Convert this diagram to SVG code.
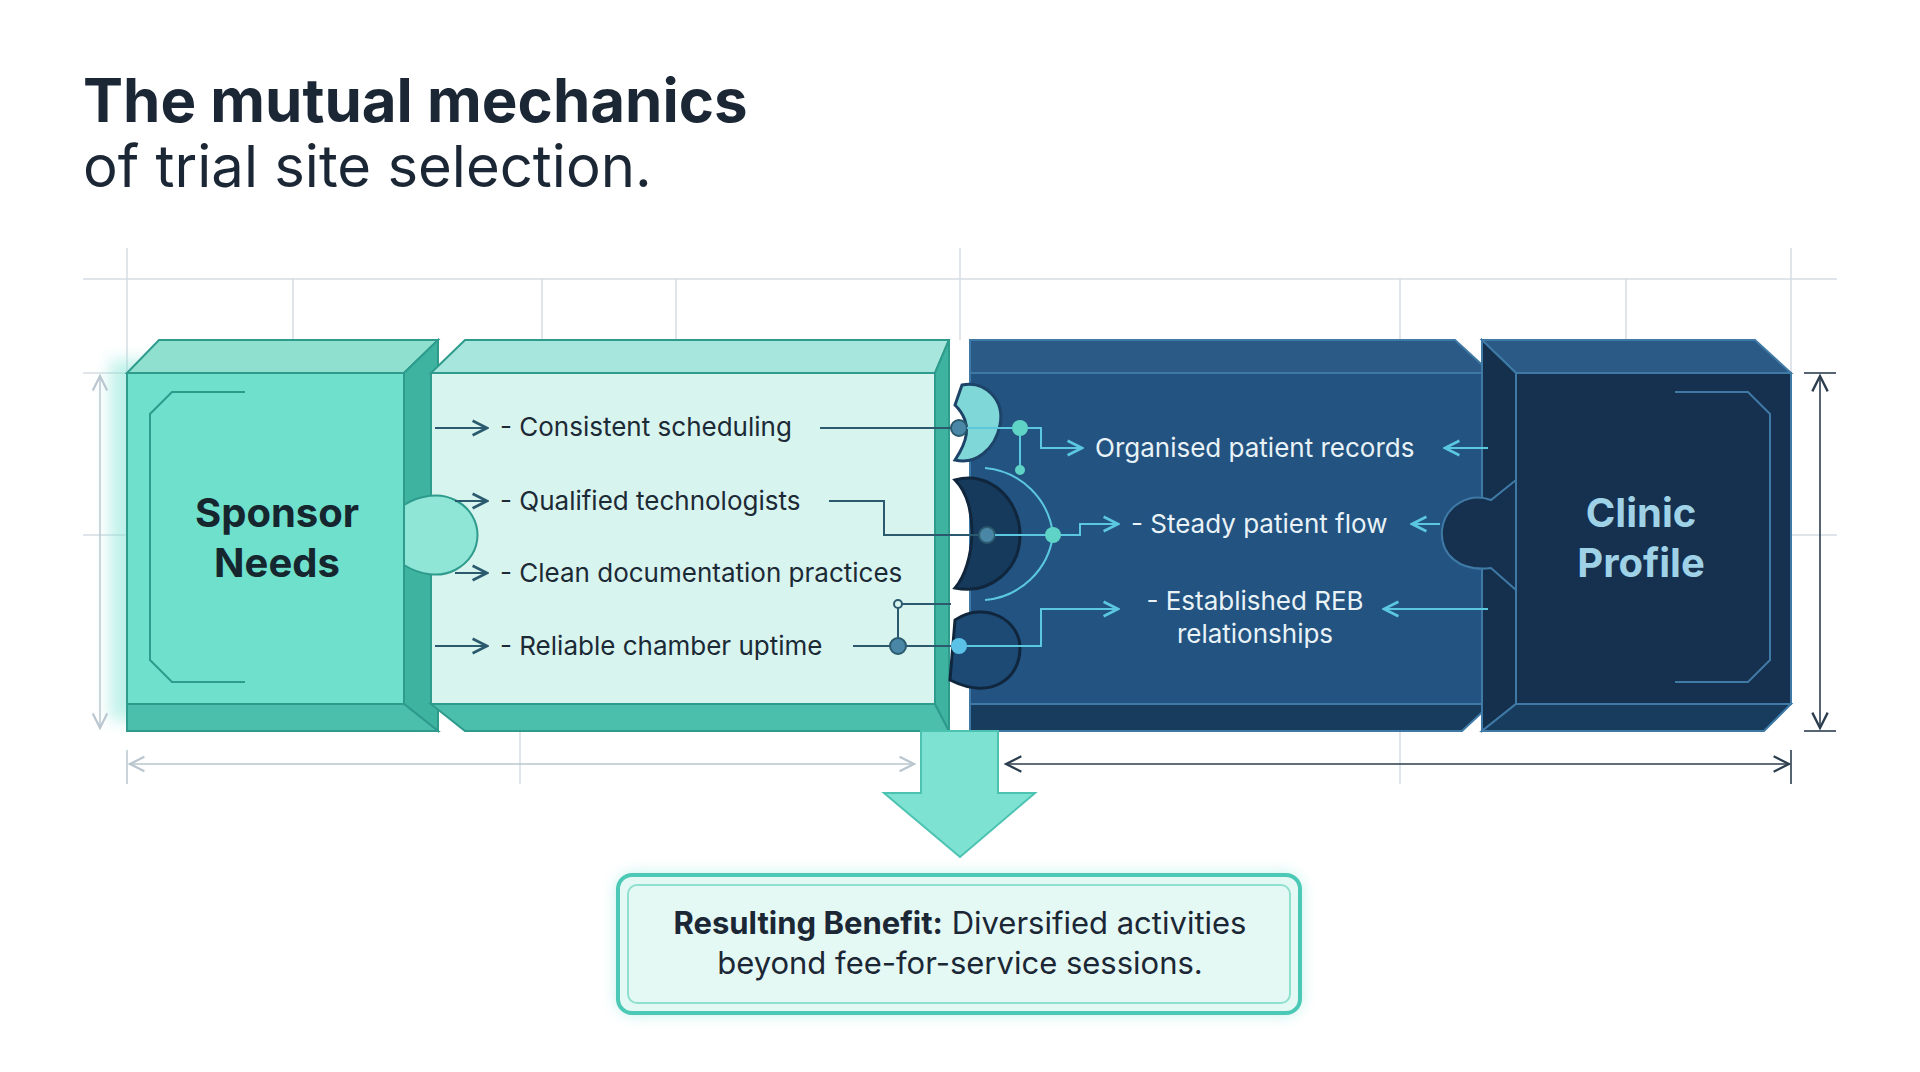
<svg xmlns="http://www.w3.org/2000/svg" width="1920" height="1072" viewBox="0 0 1920 1072">
<defs>
<style>
.t{font-family:Inter,"Liberation Sans",sans-serif}
.li{font-family:Inter,"Liberation Sans",sans-serif;font-size:26px;fill:#1c2a36}
.ri{font-family:Inter,"Liberation Sans",sans-serif;font-size:26px;fill:#e8f2f7}
.grid{stroke:#d5dde3;stroke-width:1.5;fill:none}
.cl{stroke:#2b5a6e;stroke-width:2;fill:none}
.cr{stroke:#5cc8e0;stroke-width:2;fill:none}
.dim{stroke:#2c3e4e;stroke-width:1.6;fill:none}
</style>
<marker id="ah" viewBox="0 0 10 10" refX="9" refY="5" markerWidth="9" markerHeight="9" orient="auto-start-reverse"><path d="M1,1 L9,5 L1,9" fill="none" stroke="context-stroke" stroke-width="1.5"/></marker>
<marker id="dh" viewBox="0 0 10 10" refX="9" refY="5" markerWidth="12" markerHeight="12" orient="auto-start-reverse"><path d="M1,1 L9,5 L1,9" fill="none" stroke="#2c3e4e" stroke-width="1.2"/></marker>
<marker id="lh" viewBox="0 0 10 10" refX="9" refY="5" markerWidth="12" markerHeight="12" orient="auto-start-reverse"><path d="M1,1 L9,5 L1,9" fill="none" stroke="#b9c6cf" stroke-width="1.2"/></marker>
<filter id="glow" x="-20%" y="-40%" width="140%" height="180%"><feGaussianBlur stdDeviation="8"/></filter>
</defs>
<rect width="1920" height="1072" fill="#ffffff"/>
<g id="title" class="t" fill="#1b2735">
<text x="83" y="122" font-size="60" font-weight="700">The mutual mechanics</text>
<text x="83" y="187" font-size="58">of trial site selection.</text>
</g>
<g id="grid">
<line class="grid" x1="83" y1="279" x2="1837" y2="279"/>
<line class="grid" x1="127" y1="248" x2="127" y2="373"/>
<line class="grid" x1="293" y1="278" x2="293" y2="340"/>
<line class="grid" x1="542" y1="278" x2="542" y2="340"/>
<line class="grid" x1="676" y1="278" x2="676" y2="340"/>
<line class="grid" x1="960" y1="248" x2="960" y2="340"/>
<line class="grid" x1="1400" y1="278" x2="1400" y2="340"/>
<line class="grid" x1="1626" y1="278" x2="1626" y2="340"/>
<line class="grid" x1="1791" y1="248" x2="1791" y2="373"/>
<line class="grid" x1="83" y1="373" x2="127" y2="373"/>
<line class="grid" x1="83" y1="535" x2="127" y2="535"/>
<line class="grid" x1="1791" y1="535" x2="1837" y2="535"/>
<line class="grid" x1="520" y1="731" x2="520" y2="784"/>
<line class="grid" x1="1400" y1="731" x2="1400" y2="784"/>
</g>
<g id="sponsor">
<rect x="110" y="360" width="320" height="360" fill="#7fe3d4" opacity="0.5" filter="url(#glow)"/>
<polygon points="127,373 159,340 438,340 404,373" fill="#8fe0cf" stroke="#2e9b8c" stroke-width="2"/>
<polygon points="404,373 438,340 438,731 404,704" fill="#3db3a0" stroke="#2e9b8c" stroke-width="2"/>
<polygon points="127,704 404,704 438,731 127,731" fill="#4cbfac" stroke="#2e9b8c" stroke-width="2"/>
<rect x="127" y="373" width="277" height="331" fill="#6fe0cc" stroke="#2e9b8c" stroke-width="2"/>
<path d="M245,392 H172 L150,414 V660 L172,682 H245" fill="none" stroke="#2e9b8c" stroke-width="2"/>
<text class="t" x="277" y="527" font-size="40" font-weight="700" fill="#16262f" text-anchor="middle">Sponsor</text>
<text class="t" x="277" y="577" font-size="40" font-weight="700" fill="#16262f" text-anchor="middle">Needs</text>
</g>
<g id="requirements">
<polygon points="431,373 465,340 949,340 935,373" fill="#a7e6dc" stroke="#2e9b8c" stroke-width="2"/>
<polygon points="431,704 935,704 949,731 465,731" fill="#4cbfac" stroke="#2e9b8c" stroke-width="2"/>
<rect x="431" y="373" width="504" height="331" fill="#d8f4ef" stroke="#2e9b8c" stroke-width="2"/>
<path d="M404,505 C420,495 440,492 455,500 C485,515 485,555 455,570 C440,578 420,575 404,565 Z" fill="#8fe6d6" stroke="#2e9b8c" stroke-width="2"/>
<polygon points="935,373 949,340 949,731 935,704" fill="#3db3a0" stroke="#2e9b8c" stroke-width="2"/>
</g>
<g id="offer">
<polygon points="970,340 1455,340 1491,373 970,373" fill="#2a5a85" stroke="#3f7aa6" stroke-width="2"/>
<rect x="970" y="373" width="521" height="331" fill="#235380" stroke="#3f7aa6" stroke-width="2"/>
<polygon points="970,704 1491,704 1462,731 970,731" fill="#173c5e" stroke="#3f7aa6" stroke-width="2"/>
<path d="M962,385 C985,380 1005,400 1000,425 C995,450 975,465 955,460 C965,445 975,425 955,405 Z" fill="#7fd7d8" stroke="#1d4468" stroke-width="3"/>
<path d="M955,480 C990,470 1020,500 1020,535 C1020,570 990,595 955,588 C975,565 980,505 955,480 Z" fill="#163a5c" stroke="#10263d" stroke-width="3"/>
<path d="M955,620 C985,600 1020,620 1020,648 C1020,680 990,700 950,680 Z" fill="#1d4a75" stroke="#10263d" stroke-width="3"/>
</g>
<g id="clinic">
<polygon points="1482,340 1755,340 1791,373 1516,373" fill="#2a5a85" stroke="#3f7aa6" stroke-width="2"/>
<polygon points="1482,340 1516,373 1516,704 1482,731" fill="#14304d" stroke="#3f7aa6" stroke-width="2"/>
<polygon points="1516,704 1791,704 1764,731 1482,731" fill="#173c5e" stroke="#3f7aa6" stroke-width="2"/>
<rect x="1516" y="373" width="275" height="331" fill="#16304f" stroke="#3f7aa6" stroke-width="2"/>
<path d="M1491,500 C1470,492 1445,505 1442,530 C1440,555 1460,572 1491,568 L1516,590 V480 Z" fill="#16304f" stroke="#3f7aa6" stroke-width="2"/>
<path d="M1675,392 H1748 L1770,414 V660 L1748,682 H1675" fill="none" stroke="#3f7aa6" stroke-width="2"/>
<text class="t" x="1641" y="527" font-size="40" font-weight="700" fill="#9fd2e6" text-anchor="middle">Clinic</text>
<text class="t" x="1641" y="577" font-size="40" font-weight="700" fill="#9fd2e6" text-anchor="middle">Profile</text>
</g>
<g id="labels">
<text class="li" x="500" y="436">- Consistent scheduling</text>
<text class="li" x="500" y="510">- Qualified technologists</text>
<text class="li" x="500" y="582">- Clean documentation practices</text>
<text class="li" x="500" y="655">- Reliable chamber uptime</text>
<text class="ri" x="1095" y="457">Organised patient records</text>
<text class="ri" x="1131" y="533">- Steady patient flow</text>
<text class="ri" x="1255" y="610" text-anchor="middle">- Established REB</text>
<text class="ri" x="1255" y="643" text-anchor="middle">relationships</text>
</g>
<g id="connectors">
<line class="cl" x1="435" y1="428" x2="487" y2="428" marker-end="url(#ah)"/>
<line class="cl" x1="455" y1="501" x2="487" y2="501" marker-end="url(#ah)"/>
<line class="cl" x1="455" y1="573" x2="487" y2="573" marker-end="url(#ah)"/>
<line class="cl" x1="435" y1="646" x2="487" y2="646" marker-end="url(#ah)"/>
<line class="cl" x1="820" y1="428" x2="959" y2="428"/>
<polyline class="cl" points="829,501 884,501 884,535 987,535"/>
<polyline class="cl" points="853,646 898,646 959,646"/>
<polyline class="cl" points="898,646 898,604 951,604"/>
<circle cx="898" cy="604" r="4" fill="#d8f4ef" stroke="#2b5a6e" stroke-width="2"/>
<circle cx="898" cy="646" r="8" fill="#4a87a6" stroke="#2b5a6e" stroke-width="2"/>
<circle cx="959" cy="428" r="8" fill="#4a87a6" stroke="#2b5a6e" stroke-width="2"/>
<circle cx="987" cy="535" r="8" fill="#4a87a6" stroke="#2b5a6e" stroke-width="2"/>
<line class="cr" x1="967" y1="428" x2="1020" y2="428"/>
<polyline class="cr" points="1020,428 1041,428 1041,448 1082,448" marker-end="url(#ah)"/>
<line class="cr" x1="1020" y1="428" x2="1020" y2="470"/>
<path class="cr" d="M985,468 A75,75 0 0 1 1053,535 A75,75 0 0 1 985,600" stroke-width="1.5"/>
<polyline class="cr" points="995,535 1080,535 1080,524 1118,524" marker-end="url(#ah)"/>
<polyline class="cr" points="959,646 1041,646 1041,609 1118,609" marker-end="url(#ah)"/>
<circle cx="1020" cy="428" r="8" fill="#5fd3c6"/>
<circle cx="1020" cy="470" r="5" fill="#5fd3c6"/>
<circle cx="1053" cy="535" r="8" fill="#5fd3c6"/>
<circle cx="959" cy="646" r="8" fill="#5cc1e6"/>
<line class="cr" x1="1488" y1="448" x2="1445" y2="448" marker-end="url(#ah)"/>
<line class="cr" x1="1440" y1="524" x2="1412" y2="524" marker-end="url(#ah)"/>
<line class="cr" x1="1488" y1="609" x2="1384" y2="609" marker-end="url(#ah)"/>
<line x1="100" y1="376" x2="100" y2="728" stroke="#b9c6cf" stroke-width="1.5" marker-start="url(#lh)" marker-end="url(#lh)"/>
<line class="dim" x1="1820" y1="376" x2="1820" y2="728" marker-start="url(#dh)" marker-end="url(#dh)"/>
<line class="dim" x1="1804" y1="373" x2="1836" y2="373"/>
<line class="dim" x1="1804" y1="731" x2="1836" y2="731"/>
<line x1="130" y1="764" x2="914" y2="764" stroke="#b9c6cf" stroke-width="1.5" marker-start="url(#lh)" marker-end="url(#lh)"/>
<line x1="127" y1="750" x2="127" y2="784" stroke="#b9c6cf" stroke-width="1.5"/>
<line class="dim" x1="1006" y1="764" x2="1789" y2="764" marker-start="url(#dh)" marker-end="url(#dh)"/>
<line class="dim" x1="1791" y1="750" x2="1791" y2="784"/>
</g>
<g id="down-arrow">
<polygon points="921,731 998,731 998,793 1035,793 960,857 884,793 921,793" fill="#7de2d2" stroke="#4cc3b1" stroke-width="2"/>
</g>
<g id="benefit">
<rect x="618" y="875" width="682" height="138" rx="14" fill="#7fe3d4" opacity="0.6" filter="url(#glow)"/>
<rect x="618" y="875" width="682" height="138" rx="14" fill="#e4f8f4" stroke="#4cc9b6" stroke-width="4"/>
<rect x="628" y="885" width="662" height="118" rx="9" fill="none" stroke="#8fe0cf" stroke-width="2"/>
<text class="t" x="960" y="934" font-size="31" fill="#1b2735" text-anchor="middle"><tspan font-weight="700">Resulting Benefit:</tspan> Diversified activities</text>
<text class="t" x="960" y="974" font-size="31" fill="#1b2735" text-anchor="middle">beyond fee-for-service sessions.</text>
</g>
</svg>
